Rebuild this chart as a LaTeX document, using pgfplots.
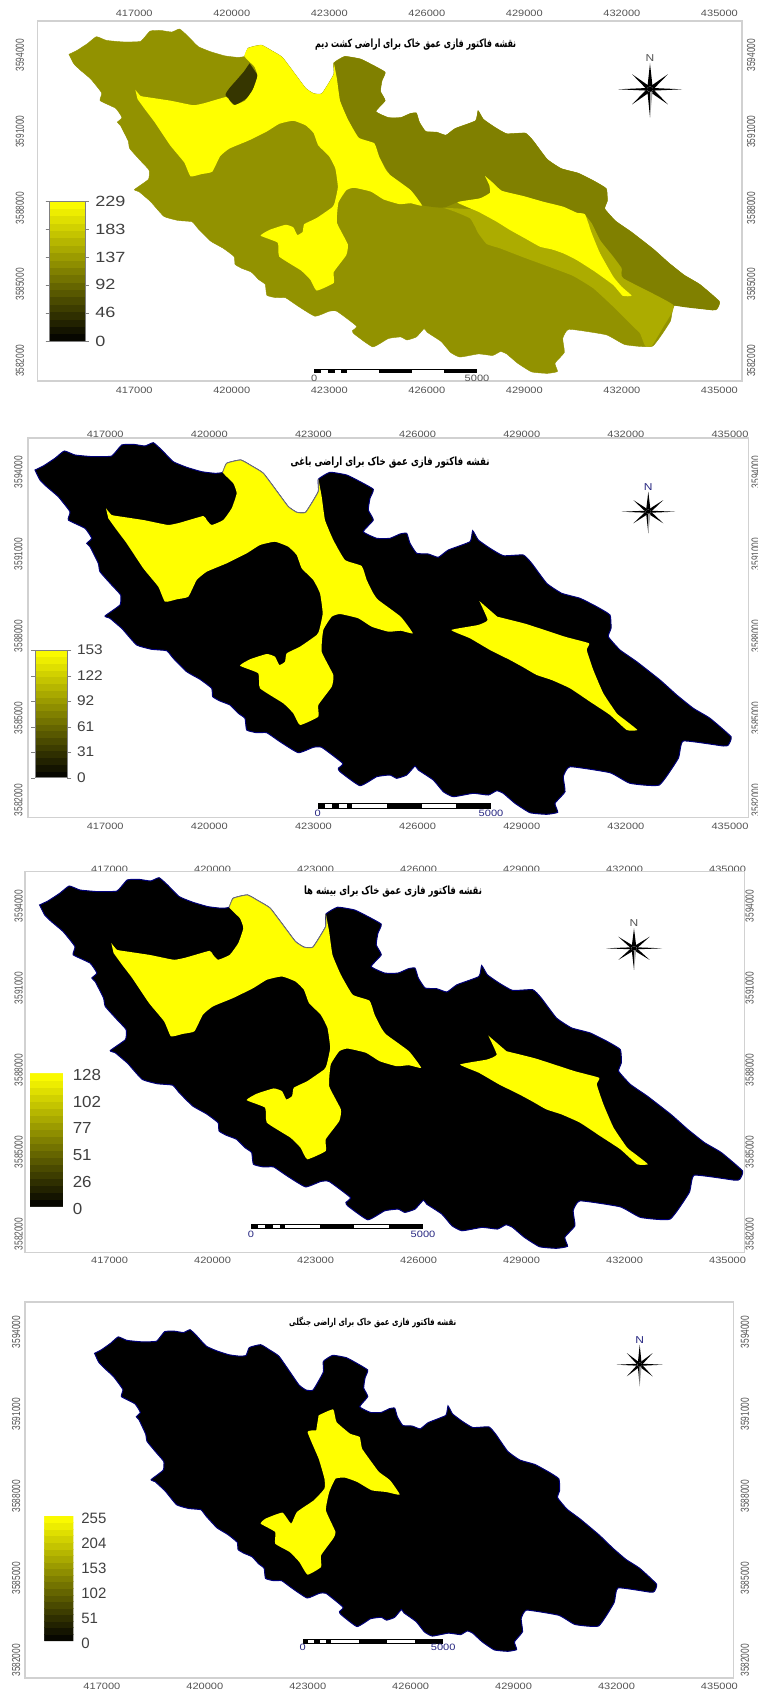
\documentclass[border=0pt]{standalone}
\usepackage{fontspec}
\usepackage{graphicx}
\usepackage{pgfplots}
\usepackage{pgfplotstable}
\pgfplotsset{compat=1.18}
\TeXXeTstate=1
\setmainfont{Liberation Sans}
\newfontfamily\xlab[FakeStretch=1.2]{Liberation Sans}
\newfontfamily\ylab[FakeStretch=0.72]{Liberation Sans}
\newfontfamily\lega[FakeStretch=1.22]{Liberation Sans}
\newfontfamily\legb[FakeStretch=1.1]{Liberation Sans}
\newfontfamily\legc[FakeStretch=1.06]{Liberation Sans}
\newfontfamily\legd{Liberation Sans}
\newfontfamily\arabicfont[Script=Arabic]{DejaVu Sans}
\newcommand\xl{\xlab\fontsize{4.6pt}{5pt}\selectfont}
\newcommand\yl{\ylab\fontsize{5.8pt}{6pt}\selectfont}
\newcommand\lgfa{\lega\fontsize{7.4pt}{8pt}\selectfont}
\newcommand\lgfb{\legb\fontsize{7pt}{8pt}\selectfont}
\newcommand\lgfc{\legc\fontsize{8pt}{9pt}\selectfont}
\newcommand\lgfd{\legd\fontsize{7.5pt}{8pt}\selectfont}
\definecolor{framec}{gray}{0.82}
\definecolor{labc}{gray}{0.33}
\definecolor{navyc}{RGB}{40,40,130}
\definecolor{edgec}{RGB}{0,0,120}
\definecolor{olive1}{RGB}{146,146,0}
\definecolor{olive2}{RGB}{128,128,0}
\definecolor{olive3}{RGB}{172,172,0}
\definecolor{olive4}{RGB}{54,54,0}
\definecolor{ylw}{RGB}{255,255,0}

% outline and yellow areas (picture pixels)
\pgfplotstableread{
x y
35 470
43.3 466
55 458.3
64.3 451
75 455
93.3 456.7
111.7 456
121.7 445
133.3 444.3
145 446
153.3 442.7
161.7 450
173.3 461.7
186.7 467.3
201.7 471.7
215 473.3
222.7 472.3
226.7 463.3
240.7 460
251.7 466
263.3 473.3
278.3 493.3
288.3 506.7
296.7 512.3
305.7 512.3
318.3 491.7
318.3 479.3
330 472.3
346.7 475
358.3 480.7
373.3 489.3
370 498.3
368.3 510
373.3 520
363.3 531.7
376.7 538.3
390 538.3
400 534
406.7 533.3
410 543.3
416.7 553.3
428.3 554
438.3 557.3
448.3 550
470 541.7
472.7 530.7
478.3 540
490 548.3
503.3 555.7
523.3 555
531.7 563.3
546.7 583.3
561.7 593.3
580 598.3
596.7 606.7
610 615
611 628.3
608.3 636.7
620 650
636.7 661.7
660 680
676.7 695
693.3 708.3
710 718.3
731 736.7
728.3 745
723.3 746
683.3 741
678.3 758.3
659.3 785
630 783.3
610 772.7
570 766.7
563.3 776.7
565 791.7
555 803.3
557.7 812.3
546.7 814.3
530 812.7
515 803.3
503.3 793.3
496.7 790.7
488.3 795
473.3 793.3
453.3 796.7
443.3 791.7
433.3 780
418.3 770
415 766
406.7 775
396.7 778.3
390 775
376.7 776.7
360 785.7
340 771.7
338.3 768.3
342.7 763.3
321.7 747.3
313.3 747.3
298.3 752.7
280 741.7
266.7 732.7
256.7 732.7
246.7 730
245 718.3
238.3 713.3
230 705
220 701
212.7 696.7
211.7 688.3
200 679.3
186.7 671.7
173.3 658.3
166.7 650.7
151.7 649.3
136.7 645
123.3 630
121.7 628.3
110 618.3
105 616
120 605
120.7 595
111.7 585
100 571.7
98.3 563.3
90 546.7
86.7 543.3
91.7 538.3
85 528.3
68.3 520
70 511.7
58.3 496.7
46.7 486.7
40 480
35 470
}\outline

\pgfplotstableread{
x y
106 508.3
111.7 515
121.7 516.7
143.3 520
151.7 521.7
168.3 525
180 522.7
203.3 516
206.7 520
211.7 525
223.3 520
231.7 508.3
236.7 493.3
233.3 483.3
222.7 472.3
226.7 463.3
240.7 460
251.7 466
263.3 473.3
278.3 493.3
288.3 506.7
296.7 512.3
305.7 512.3
318.3 491.7
318.3 479.3
321.7 496.7
325 520
333.3 540
345 560
361.7 566
366.7 580
373.3 593.3
378.3 600
400.7 616.7
412.8 633.3
400.7 630.7
388.6 631.7
371.7 626.7
358.3 618.3
340 614
331.7 616.7
323.3 630
321.7 651.7
333.3 675
331.7 686.7
318.3 705
318.3 716.7
300 725
293.3 713.3
283.3 703.3
260 688.3
258.3 673.3
240 665.7
250 659.3
266.7 654
275 656.7
279.3 665
285 661.7
286.7 653.3
300 646.7
316.7 635
319.3 630
322.7 613.3
320 593.3
313.3 580
301.7 568.3
296.7 555
288.3 546.7
275 541.7
260 545
246.7 553.3
226.7 563.3
206.7 571.7
196.7 580
188.3 596.7
176.7 599.3
165 601.7
158.3 586.7
143.3 568.3
126.7 543.3
116.7 530
108.3 518.3
}\yellowmain

\pgfplotstableread{
x y
222.7 472.3
226.7 463.3
240.7 460
251.7 466
263.3 473.3
278.3 493.3
288.3 506.7
296.7 512.3
305.7 512.3
318.3 491.7
318.3 479.3
}\notchline

\pgfplotstableread{
x y
479.3 601
487.6 620
478 625
451.4 630
470 638.3
490 650
510 660
523.3 667.3
536.7 675
551.7 680
570 688.3
590 701.7
610 715
626.7 730
637.3 730
625 720
616.7 713.3
603.3 693.3
593.3 670
586.7 650
589 643.3
564.9 636.7
526.2 624
497.3 616.7
}\yelloweast

% first map only, its own pixels
\pgfplotstableread{
x y
333.8 62.9
344.7 56.4
360.3 58.9
371.1 64.2
385.1 72.1
382 80.5
380.5 91.3
385.1 100.6
375.8 111.4
388.3 117.5
400.7 117.5
410.1 113.5
416.4 112.9
419.4 122.2
425.7 131.4
436.5 132.1
445.9 135.1
455.2 128.4
475.5 120.7
478 110.5
483.3 119.1
494.2 126.8
506.6 133.7
525.3 133
533.2 140.7
547.2 159.2
561.2 168.5
578.3 173.1
593.9 180.9
606.3 188.6
607.3 200.9
604.7 208.7
615.7 221
631.3 231.9
653.1 248.8
668.7 262.7
684.2 275
699.8 284.3
719.4 301.4
716.9 309
712.2 310
673.3 305
623.3 278.3
620 266.7
608.3 253.3
598.3 236.7
591.7 223.3
585 215
576.7 212.7
563.3 206.7
543.3 201.7
523.3 196
501.7 190.7
491.7 181.7
485 176
489.3 185
490 192.7
480 198.3
457.3 202.3
443.3 207.7
421.7 205
410.7 190.2
392.7 177.8
379.3 157.7
372.4 143.9
358.7 137.7
347.8 119.1
340 100.6
336.9 79
}\firstdark

\pgfplotstableread{
x y
443.3 207.7
455 211.7
470 218.3
475 226.7
478.3 233.3
486.7 244
500 248.3
523.3 257.3
553.3 268.3
573.3 276
593.3 288.3
613.3 306.7
633.3 326.7
640 333.3
645 345.7
651.7 346
663.3 326.7
673.3 305
623.3 278.3
621.7 268.3
613.3 256.7
600 240
591.7 223.3
585 215
}\firstlight

\pgfplotstableread{
x y
485 176
491.7 181.7
501.7 190.7
523.3 196
543.3 201.7
563.3 206.7
576.7 212.7
585 214.3
591.7 233.3
600 253.3
613.3 276.7
621.7 286.7
631.7 295.7
622.7 295.7
613.3 285
595 271.7
576.7 260
563.3 253.3
551.7 249.3
540 246.7
525 238.3
510 230
496.7 221.7
478.3 211.7
457.3 202.3
480 198.3
490 192.7
489.3 185
}\firsteast

\pgfplotstableread{
x y
249.6 63.3
257.3 75
254.9 85
248.6 96.7
235.1 105
225.5 95
229.3 88.3
236.6 80
243.8 71.7
}\firstpatch

% fourth map only, yellow area
\pgfplotstableread{
x y
660 460
690 442
697 480
725 515
745 525
750 560
772 605
785 630
808 655
828 698
800 690
770 685
740 660
715 647
695 650
682 690
675 745
695 810
690 830
665 880
665 915
637 938
620 900
600 870
570 845
570 810
540 785
550 770
585 752
603 785
615 750
650 715
672 680
672 650
660 590
637 510
655 505
}\fourthyellow

\pgfplotsset{
  colormap={blackyellow}{rgb255(0cm)=(0,0,0) rgb255(1cm)=(255,255,0)},
  mapaxis/.style={
    scale only axis, anchor=north west,
    xtick={417000,420000,423000,426000,429000,432000,435000},
    ytick={3582000,3585000,3588000,3591000,3594000},
    scaled x ticks=false, scaled y ticks=false,
    major tick length=0pt,
    axis line style={draw=framec,line width=0.6pt},
    /pgf/number format/fixed,
    /pgf/number format/precision=0,
    /pgf/number format/1000 sep={},
    /pgf/number format/assume math mode=true,
    tick label style={inner sep=0pt,text=labc},
    xticklabel style={font=\xl},
    yticklabel style={font=\yl,rotate=90},
  },
  legbar/.style={
    colorbar, colorbar sampled, colormap name=blackyellow,
    colorbar shift/.style={xshift=0pt},
  },
  barstyle/.style={
    samples=20, scale only axis,
    at={(parent axis.north west)}, anchor=north west,
    /pgf/number format/fixed,
    /pgf/number format/assume math mode=true,
    scaled y ticks=false,
    yticklabel style={font=#1,text=black!75,inner sep=0pt,anchor=west},
  },
}
\newcommand\compass[7]{% cx cy north south west east, colour of N
  \begin{scope}[shift={({#1*0.5pt},{-#2*0.5pt})}]
    \begin{scope}[x=#5*0.5pt,y=#3*0.5pt]
      \fill[black] (0,1)--(-.08,.1)--(.08,.1)--cycle;
      \fill[black] (-1,0)--(-.1,-.05)--(-.1,.05)--cycle;
      \fill[black] (1,0)--(.1,-.05)--(.1,.05)--cycle;
      \fill[black] (.56,.58)--(.02,.12)--(.12,.02)--cycle;
      \fill[black] (-.56,.58)--(-.02,.12)--(-.12,.02)--cycle;
      \fill[black] (.56,-.58)--(.02,-.12)--(.12,-.02)--cycle;
      \fill[black] (-.56,-.58)--(-.02,-.12)--(-.12,-.02)--cycle;
      \fill[black] (0,-1.08)--(-.08,-.1)--(0,-.1)--cycle;
      \fill[black!35] (0,-1.08)--(.08,-.1)--(0,-.1)--cycle;
      \fill[black] (0,0) circle (.1);
    \end{scope}
    \node[text=#7,font=\xlab\fontsize{5pt}{5pt}\selectfont,inner sep=0pt] at (0,{(#3+#6)*0.5pt}) {N};
  \end{scope}}
\newcommand\scalebar[6]{% x0 x1 y0 y1 label y, label colour
  \pgfmathsetmacro\sbw{(#2-#1)*0.5}
  \pgfmathsetmacro\sbh{(#4-#3)*0.5}
  \begin{scope}[shift={({#1*0.5pt},{-#3*0.5pt})},x=\sbw pt,y=-\sbh pt]
    \fill[black] (0,0) rectangle (1,1);
    \foreach \a/\b in {.04/.083,.125/.167,.2/.4,.6/.8}{\fill[white] (\a,.18) rectangle (\b,.82);}
  \end{scope}
  \node[text=#6,font=\xl,inner sep=0pt] at ({#1*0.5pt},{-#5*0.5pt}) {0};
  \node[text=#6,font=\xl,inner sep=0pt] at ({#2*0.5pt},{-#5*0.5pt}) {5000};}
\newcommand\maptitle[5]{%
  \node[inner sep=0pt] at (#1pt,#2pt) {\resizebox{#3pt}{#4pt}{\arabicfont\bfseries #5}};}
\newcommand\mapshape[2][]{\addplot[smooth,tension=0.25,#1] table[x expr=\thisrow{x}*\Kx+\Cx,y expr=\thisrow{y}*\Ky+\Cy] {#2} --cycle;}

\begin{document}
\begin{tikzpicture}
\path[use as bounding box] (0,0) rectangle (378.5pt,-846pt);

% ---------- map 1
\begin{axis}[mapaxis,at={(18.85pt,-10.5pt)},width=352.15pt,height=180pt,
  xmin=414032,xmax=435695,ymin=3581202,ymax=3595348,
  xticklabel pos=upper,yticklabel pos=right,xticklabel shift=1.85pt,yticklabel shift=2.35pt,
  yticklabel style={anchor=north}]
\end{axis}
\begin{axis}[mapaxis,at={(18.85pt,-10.5pt)},width=352.15pt,height=180pt,
  xmin=414032,xmax=435695,ymin=3581202,ymax=3595348,
  xticklabel shift=2.85pt,yticklabel shift=6.7pt,yticklabel style={anchor=south},
  axis background/.style={fill=white},
  legbar,point meta min=0,point meta max=229,
  colorbar style={barstyle=\lgfa,xshift=6pt,yshift=-90pt,width=17.65pt,height=70pt,
    ytick={0,46,92,137,183,229},axis line style={draw=gray},
    tick align=outside,major tick length=2pt,ytick style={draw=gray},yticklabel shift=3pt}]
\def\Kx{28.745}\def\Cx{413988.6}\def\Ky{-36.414}\def\Cy{3611154.5}
\mapshape[fill=olive1,draw=olive1,line width=0.2pt]{\outline}
\def\Kx{30.76}\def\Cx{412872}\def\Ky{-39.3}\def\Cy{3596173}
\mapshape[fill=olive2,draw=none]{\firstdark}
\mapshape[fill=olive3,draw=none]{\firstlight}
\mapshape[fill=ylw,draw=none]{\firsteast}
\mapshape[fill=olive4,draw=none]{\firstpatch}
\def\Kx{28.745}\def\Cx{413988.6}\def\Ky{-36.414}\def\Cy{3611154.5}
\mapshape[fill=ylw,draw=none]{\yellowmain}
\end{axis}
\maptitle{207.85}{-22.15}{100.5}{4.3}{\beginR نقشه فاکتور فازی عمق خاک برای اراضی کشت دیم\endR}
\compass{650}{89.3}{26}{26}{32}{5}{labc}
\scalebar{314.3}{477}{369}{373.3}{378.5}{labc}

% ---------- map 2
\begin{axis}[mapaxis,at={(14pt,-219pt)},width=360.15pt,height=189.65pt,
  xmin=414776,xmax=435527,ymin=3581367,ymax=3595244,
  xticklabel pos=upper,yticklabel pos=right,xticklabel shift=-0.15pt,yticklabel shift=1.35pt,
  yticklabel style={anchor=north}]
\end{axis}
\begin{axis}[mapaxis,at={(14pt,-219pt)},width=360.15pt,height=189.65pt,
  xmin=414776,xmax=435527,ymin=3581367,ymax=3595244,
  xticklabel shift=2.7pt,yticklabel shift=2.5pt,yticklabel style={anchor=south},
  axis background/.style={fill=white},
  legbar,point meta min=0,point meta max=153,
  colorbar style={barstyle=\lgfb,xshift=3.5pt,yshift=-106pt,width=16.15pt,height=63.85pt,
    ytick={0,31,61,92,122,153},axis line style={draw=gray},
    tick align=outside,major tick length=2pt,ytick style={draw=gray},yticklabel shift=2.7pt}]
\def\Kx{28.81}\def\Cx{413969}\def\Ky{-36.585}\def\Cy{3611268}
\mapshape[fill=black,draw=edgec,line width=0.5pt]{\outline}
\mapshape[fill=ylw,draw=none]{\yellowmain}
\mapshape[fill=ylw,draw=none]{\yelloweast}
\addplot[smooth,tension=0.25,draw=black!55,line width=0.4pt] table[x expr=\thisrow{x}*\Kx+\Cx,y expr=\thisrow{y}*\Ky+\Cy] {\notchline};
\end{axis}
\maptitle{195.05}{-231.15}{99.5}{4.3}{\beginR نقشه فاکتور فازی عمق خاک برای اراضی باغی\endR}
\compass{648.3}{511.7}{20}{22}{26.7}{5}{navyc}
\scalebar{317.7}{491}{803.3}{809}{813.3}{navyc}

% ---------- map 3
\begin{axis}[mapaxis,at={(12.55pt,-435.65pt)},width=359.7pt,height=190.7pt,
  xmin=414539,xmax=435492,ymin=3581316,ymax=3595270,
  xticklabel pos=upper,yticklabel pos=right,xticklabel shift=-1pt,yticklabel shift=0.25pt,
  yticklabel style={anchor=north}]
\end{axis}
\begin{axis}[mapaxis,at={(12.55pt,-435.65pt)},width=359.7pt,height=190.7pt,
  xmin=414539,xmax=435492,ymin=3581316,ymax=3595270,
  xticklabel shift=1.8pt,yticklabel shift=1pt,yticklabel style={anchor=south},
  axis background/.style={fill=white},
  legbar,point meta min=0,point meta max=128,
  colorbar style={barstyle=\lgfc,xshift=2.45pt,yshift=-101pt,width=16.4pt,height=66.7pt,
    ytick={0,26,51,77,102,128},axis line style={draw=none},
    major tick length=0pt,yticklabel shift=4.8pt,yticklabel style={yshift=-1pt}}]
\def\Kx{29.416}\def\Cx{413931.6}\def\Ky{-36.486}\def\Cy{3611187.6}
\mapshape[fill=black,draw=edgec,line width=0.5pt]{\outline}
\mapshape[fill=ylw,draw=none]{\yellowmain}
\mapshape[fill=ylw,draw=none]{\yelloweast}
\addplot[smooth,tension=0.25,draw=black!55,line width=0.4pt] table[x expr=\thisrow{x}*\Kx+\Cx,y expr=\thisrow{y}*\Ky+\Cy] {\notchline};
\end{axis}
\maptitle{196.5}{-445.85}{89}{4.3}{\beginR نقشه فاکتور فازی عمق خاک برای بیشه ها\endR}
\compass{634}{948.3}{20}{23}{28}{5}{labc}
\scalebar{251}{423}{1224.3}{1229}{1234}{navyc}

% ---------- map 4
\begin{axis}[mapaxis,at={(12.55pt,-651pt)},width=354.35pt,height=188pt,
  xmin=414761,xmax=435420,ymin=3581353,ymax=3595096,
  xtick=\empty,yticklabel pos=right,yticklabel shift=3.25pt,
  yticklabel style={anchor=north}]
\end{axis}
\begin{axis}[mapaxis,at={(12.55pt,-651pt)},width=354.35pt,height=188pt,
  xmin=414761,xmax=435420,ymin=3581353,ymax=3595096,
  xticklabel shift=2.35pt,yticklabel shift=2.25pt,yticklabel style={anchor=south},
  axis background/.style={fill=white},
  legbar,point meta min=0,point meta max=255,
  colorbar style={barstyle=\lgfd,xshift=9.65pt,yshift=-107pt,width=14.5pt,height=62.5pt,
    ytick={0,51,102,153,204,255},axis line style={draw=none},
    major tick length=0pt,yticklabel shift=3.8pt,yticklabel style={yshift=-1pt}}]
\def\Kx{23.538}\def\Cx{415962.3}\def\Ky{-31.63}\def\Cy{3608086}
\mapshape[fill=black,draw=edgec,line width=0.5pt]{\outline}
\def\Kx{14.073}\def\Cx{414029.7}\def\Ky{-12.183}\def\Cy{3596558.5}
\mapshape[fill=ylw,draw=none]{\fourthyellow}
\end{axis}
\maptitle{186.35}{-661.15}{83.5}{4.3}{\beginR نقشه فاکتور فازی عمق خاک برای اراضی جنگلی\endR}
\compass{639.7}{1364.7}{20}{20}{23}{5}{navyc}
\scalebar{302.7}{443.2}{1639.3}{1643.7}{1647.7}{navyc}
\end{tikzpicture}
\end{document}
